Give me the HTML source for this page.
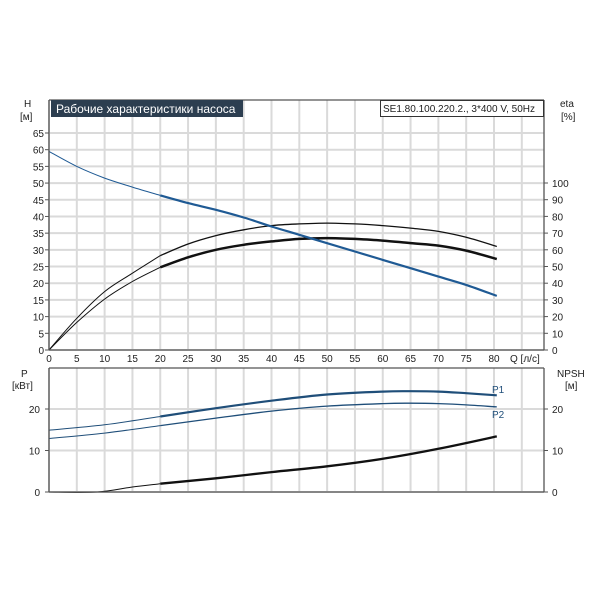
<!DOCTYPE html>
<html><head><meta charset="utf-8"><style>
body{margin:0;background:#fff;}
svg text{font-family:"Liberation Sans","DejaVu Sans",sans-serif;font-size:10px;fill:#222;}
</style></head><body>
<svg id="chart" width="600" height="600" viewBox="0 0 600 600" xmlns="http://www.w3.org/2000/svg">
<rect width="600" height="600" fill="#fff"/>
<g id="grid"></g>
<g id="curves"></g>
<g id="axes"></g>
<rect x="51" y="100" width="192" height="17" fill="#2c3e50"/>
<text x="56" y="113" style="font-size:12px;fill:#fff">Рабочие характеристики насоса</text>
<rect x="380.5" y="100.5" width="163" height="16" fill="#fff" stroke="#333"/>
<text x="383" y="112" style="font-size:10px">SE1.80.100.220.2., 3*400 V, 50Hz</text>
<text x="24" y="107">H</text>
<text x="20" y="120">[м]</text>
<text x="560" y="107">eta</text>
<text x="561" y="120">[%]</text>
<text x="510" y="362">Q [л/с]</text>
<text x="21" y="377">P</text>
<text x="12" y="389">[кВт]</text>
<text x="557" y="377">NPSH</text>
<text x="565" y="389">[м]</text>
<text x="492" y="393" style="fill:#1f4e79">P1</text>
<text x="492" y="418" style="fill:#1f4e79">P2</text>
</svg>
<script>
const qTicks=[0,5,10,15,20,25,30,35,40,45,50,55,60,65,70,75,80];
const hTicks=[0,5,10,15,20,25,30,35,40,45,50,55,60,65];
const etaTicks=[0,10,20,30,40,50,60,70,80,90,100];
const pTicks=[0,10,20];
const npshTicks=[0,10,20];
const qH=[0,5,10,15,20,25,30,35,40,45,50,55,60,65,70,75,80.5];
const hVals=[59.5,55,51.5,48.8,46.3,44,42,39.7,37,34.5,32,29.5,27,24.5,22,19.5,16.2];
const qEta=[0,5,10,15,20,25,30,35,40,45,50,55,60,65,70,75,80.5];
const eta1Vals=[0,19,35,46,56.5,63.5,68.5,72,74.5,75.5,76,75.5,74.5,73,71,67.5,62];
const eta2Vals=[0,16.5,30.5,41,49.5,55.5,60,63,65,66.5,67,66.5,65.5,64,62.5,59.5,54.5];
const qP=[0,10,20,30,40,50,60,65,70,75,80.5];
const p1Vals=[14.9,16.2,18.2,20.2,22,23.5,24.2,24.3,24.2,23.8,23.3];
const p2Vals=[12.9,14.2,16,17.8,19.5,20.7,21.3,21.4,21.3,21,20.5];
const qN=[0,8.7,15,20,30,40,50,60,70,80.5];
const npshVals=[0,0,1.2,2,3.3,4.8,6.2,8,10.4,13.4];

const NS="http://www.w3.org/2000/svg";
const X0=49,XR=544,Y0=350,YT=100,B0=492,BT=368;
const xS=q=>X0+q*(494-49)/80;
const yH=h=>Y0-h*(350-133)/65;
const yE=e=>Y0-e*(350-183)/100;
const yP=p=>B0-p*(492-409)/20;
function el(t,a,parent){const e=document.createElementNS(NS,t);for(const k in a)e.setAttribute(k,a[k]);document.getElementById(parent).appendChild(e);return e;}
qTicks.concat([85]).forEach(q=>{
 const l=el('line',{x1:xS(q),x2:xS(q),y1:YT,y2:Y0,stroke:'#dadada','stroke-width':2},'grid');
 
 
 const l2=el('line',{x1:xS(q),x2:xS(q),y1:BT,y2:B0,stroke:'#dadada','stroke-width':2},'grid');
 
 
});
hTicks.forEach(h=>{
 const l=el('line',{x1:X0,x2:XR,y1:yH(h),y2:yH(h),stroke:'#dadada','stroke-width':2},'grid');
 
 
});
pTicks.forEach(p=>{
 const l=el('line',{x1:X0,x2:XR,y1:yP(p),y2:yP(p),stroke:'#dadada','stroke-width':2},'grid');
 
 
});
[[X0,YT,X0,Y0],[XR,YT,XR,Y0],[X0,YT,XR,YT],[X0,Y0,XR,Y0],[X0,BT,X0,B0],[XR,BT,XR,B0],[X0,BT,XR,BT],[X0,B0,XR,B0]].forEach(c=>{
 const l=el('line',{x1:c[0],y1:c[1],x2:c[2],y2:c[3],stroke:'#555','stroke-width':1.3},'axes');
 
 
});
function txt(x,y,s,anchor,name){const t=el('text',{x:x,y:y,'text-anchor':anchor},'axes');t.textContent=s;
 
 
 return t;}
hTicks.forEach(h=>{txt(44,yH(h)+4,h,'end','h-tick-label');el('line',{x1:X0-4,x2:X0,y1:yH(h),y2:yH(h),stroke:'#555'},'axes');});
etaTicks.forEach(e=>{txt(552,yE(e)+4,e,'start','eta-tick-label');el('line',{x1:XR,x2:XR+4,y1:yE(e),y2:yE(e),stroke:'#555'},'axes');});
qTicks.forEach(q=>{txt(xS(q),362,q,'middle','q-tick-label');});
pTicks.forEach(p=>{txt(40,yP(p)+4,p,'end','p-tick-label');el('line',{x1:X0-4,x2:X0,y1:yP(p),y2:yP(p),stroke:'#555'},'axes');});
npshTicks.forEach(p=>{txt(552,yP(p)+4,p,'start','npsh-tick-label');el('line',{x1:XR,x2:XR+4,y1:yP(p),y2:yP(p),stroke:'#555'},'axes');});
function smooth(pts){
 if(pts.length<2)return '';
 let d='M'+pts[0][0].toFixed(1)+','+pts[0][1].toFixed(1);
 for(let i=0;i<pts.length-1;i++){
  const p0=pts[Math.max(0,i-1)],p1=pts[i],p2=pts[i+1],p3=pts[Math.min(pts.length-1,i+2)];
  const c1=[p1[0]+(p2[0]-p0[0])/6,p1[1]+(p2[1]-p0[1])/6];
  const c2=[p2[0]-(p3[0]-p1[0])/6,p2[1]-(p3[1]-p1[1])/6];
  d+=' C'+c1[0].toFixed(1)+','+c1[1].toFixed(1)+' '+c2[0].toFixed(1)+','+c2[1].toFixed(1)+' '+p2[0].toFixed(1)+','+p2[1].toFixed(1);
 }
 return d;
}
function curve(qs,vs,yf,color,thick,name){
 const thin=[],bold=[];
 qs.forEach((q,i)=>{const p=[xS(q),yf(vs[i])];if(q<=20)thin.push(p);if(q>=20)bold.push(p);});
 const a=el('path',{d:smooth(thin),fill:'none',stroke:color,'stroke-width':1,'stroke-linejoin':'round'},'curves');
 
 
 const b=el('path',{d:smooth(bold),fill:'none',stroke:color,'stroke-width':thick,'stroke-linejoin':'round'},'curves');
 
 
}
curve(qEta,eta1Vals,yE,'#111',1.3,'eta1-curve');
curve(qEta,eta2Vals,yE,'#111',2.5,'eta2-curve');
curve(qH,hVals,yH,'#1f5a94',2.2,'head-curve');
curve(qP,p1Vals,yP,'#1f4e79',2.2,'p1-curve');
curve(qP,p2Vals,yP,'#1f4e79',1.3,'p2-curve');
curve(qN,npshVals,yP,'#111',2.3,'npsh-curve');
</script>
</body></html>
